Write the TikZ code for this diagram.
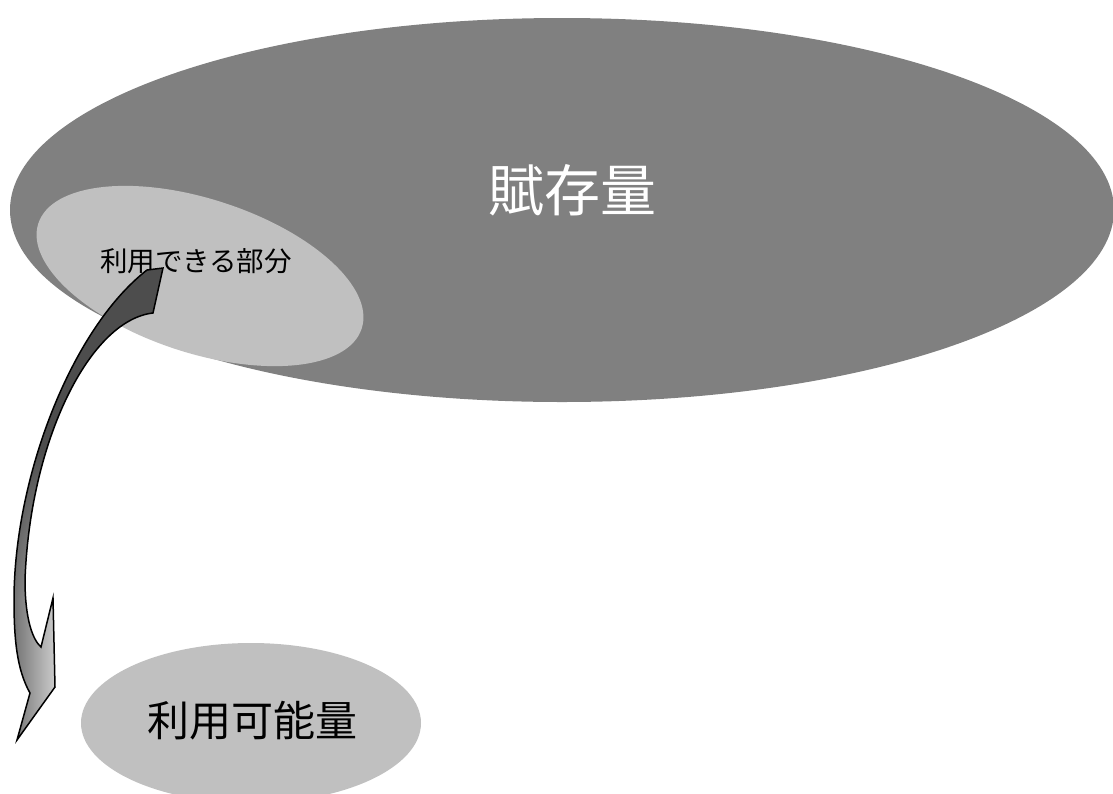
\documentclass[tikz,border=0pt]{standalone}
\usepackage{fontspec}
\newfontfamily\jp{Noto Sans CJK JP}
\usetikzlibrary{shapes.geometric,fadings}
\definecolor{bigfill}{HTML}{808080}
\definecolor{smallfill}{HTML}{C0C0C0}
\definecolor{arrowdark}{HTML}{4D4D4D}
\tikzset{
  blob/.style={ellipse, inner sep=0pt, draw=none},
  lbl/.style={inner sep=0pt, font=\jp},
}
\def\arrowpath{(163,268) -- (153,313)
  .. controls (90,320) and (30,440) .. (25,580)
  .. controls (25,620) and (33,640) .. (41,647)
  -- (53,598) -- (55,687) -- (17,740) -- (30,693)
  .. controls (17,670) and (14,640) .. (14,600)
  .. controls (14,480) and (70,330) .. (147,270)
  -- cycle}
\begin{document}
\begin{tikzpicture}[x=1pt,y=-1pt]
\useasboundingbox (0,0) rectangle (1113,793);
% big ellipse
\node[blob, fill=bigfill, minimum width=1104pt, minimum height=384pt] (fuzon) at (562,210) {};
\node[lbl, text=white, font=\jp\fontsize{56pt}{60pt}\selectfont] (fuzonlbl) at (572,190) {賦存量};
% small rotated ellipse
\node[blob, fill=smallfill, minimum width=340pt, minimum height=154pt, rotate=-18] (bubun) at (200,276) {};
\node[lbl, font=\jp\fontsize{27.5pt}{30pt}\selectfont] (bubunlbl) at (196,261) {利用できる部分};
% bottom ellipse
\node[blob, fill=smallfill, minimum width=340pt, minimum height=160pt] (kanou) at (251,723) {};
\node[lbl, font=\jp\fontsize{42pt}{46pt}\selectfont] (kanoulbl) at (252,721) {利用可能量};
% curved arrow
\fill[arrowdark] \arrowpath;
\begin{scope}
  \clip \arrowpath;
  \shade[left color=black!62, right color=black!12, path fading=north] (5,450) rectangle (65,600);
  \shade[left color=black!62, right color=black!12] (5,600) rectangle (65,750);
\end{scope}
\draw[black, line width=1.5pt, line join=miter] \arrowpath;
\end{tikzpicture}
\end{document}
